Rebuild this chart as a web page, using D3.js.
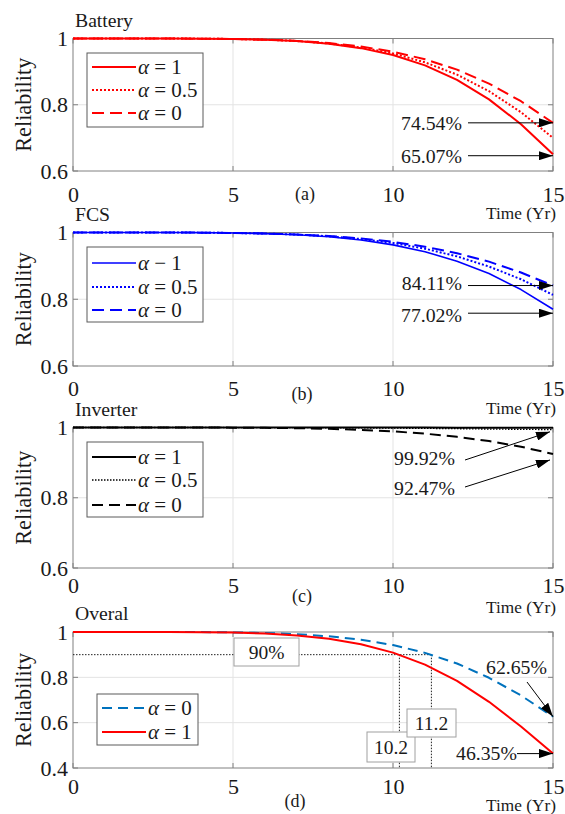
<!DOCTYPE html>
<html>
<head>
<meta charset="utf-8">
<script src="https://cdn.jsdelivr.net/npm/d3@7/dist/d3.min.js"></script>
<style>
  html, body { margin: 0; padding: 0; background: #fff; }
  svg { display: block; font-family: "Liberation Serif", "Times New Roman", serif; }
</style>
</head>
<body>
<svg id="chart" width="565" height="814"></svg>
<script>
// Reliability over time (years) for each subsystem and the overall system
const years = [0, 1, 2, 3, 4, 5, 6, 7, 8, 9, 10, 11, 12, 13, 14, 15];
const xTicks = [0, 5, 10, 15];
const yTicks = [0.6, 0.8, 1];
const yTicksOverall = [0.4, 0.6, 0.8, 1];

const batteryA1  = [1, 1, 1, 0.9999, 0.9996, 0.9986, 0.9965, 0.9921, 0.9842, 0.9709, 0.950, 0.9189, 0.875, 0.8163, 0.7413, 0.6507];
const batteryA05 = [1, 1, 1, 0.9999, 0.9996, 0.9986, 0.9965, 0.9924, 0.9850, 0.9730, 0.955, 0.9280, 0.891, 0.8410, 0.7775, 0.7000];
const batteryA0  = [1, 1, 1, 0.9999, 0.9995, 0.9986, 0.9966, 0.9928, 0.9863, 0.9759, 0.960, 0.9372, 0.906, 0.8640, 0.8106, 0.7454];

const fcsA1  = [1, 1, 1, 0.9999, 0.9996, 0.9986, 0.9967, 0.9932, 0.9872, 0.9775, 0.9630, 0.9425, 0.9140, 0.8770, 0.829, 0.7702];
const fcsA05 = [1, 1, 1, 0.9999, 0.9996, 0.9986, 0.9969, 0.9938, 0.9886, 0.9805, 0.9685, 0.9515, 0.9285, 0.8980, 0.860, 0.8130];
const fcsA0  = [1, 1, 1, 0.9999, 0.9996, 0.9987, 0.9971, 0.9942, 0.9896, 0.9824, 0.9720, 0.9575, 0.9380, 0.9127, 0.880, 0.8411];

const inverterA1  = [1, 1, 1, 1, 1, 1, 1, 1, 0.9999, 0.9999, 0.9998, 0.9997, 0.9996, 0.9995, 0.9994, 0.9992];
const inverterA05 = [1, 1, 1, 1, 1, 0.9999, 0.9998, 0.9996, 0.9993, 0.9988, 0.9982, 0.9975, 0.9966, 0.9955, 0.9948, 0.9940];
const inverterA0  = [1, 1, 1, 1, 0.9999, 0.9996, 0.9990, 0.9980, 0.9962, 0.9933, 0.9889, 0.9825, 0.9735, 0.9614, 0.9453, 0.9247];

const overallA0 = [1, 1, 1, 1, 0.9995, 0.9983, 0.9956, 0.9904, 0.9810, 0.9660, 0.9426, 0.9080, 0.8610, 0.7980, 0.7200, 0.6265];
const overallA1 = [1, 1, 1, 0.9998, 0.9991, 0.9973, 0.9932, 0.9850, 0.9700, 0.9460, 0.9090, 0.8560, 0.7840, 0.6920, 0.5830, 0.4635];

// 90 % reliability threshold and the years at which each case reaches it
const threshold = 0.9;
const thresholdYears = [10.2, 11.2];

const FONT = '"Liberation Serif", "Times New Roman", serif';
const TEXT = "#1a1a1a";
const AXIS = "#808080";
const GRID = "#e3e3e3";
const pct = v => d3.format(".2f")(v * 100) + "%";

const svg = d3.select("#chart");
const defs = svg.append("defs");
defs.append("marker")
  .attr("id", "arrow")
  .attr("markerUnits", "userSpaceOnUse")
  .attr("markerWidth", 15).attr("markerHeight", 9)
  .attr("refX", 14).attr("refY", 4.5)
  .attr("orient", "auto")
  .append("path").attr("d", "M0,0 L14,4.5 L0,9 Z").attr("fill", "#000");

const x = d3.scaleLinear().domain([0, 15]).range([73, 553]);

function legendLabel(sel, label) {
  sel.append("tspan").attr("font-style", "italic").text("\u03b1");
  sel.append("tspan").text(label);
}

function drawPanel(p) {
  const y = d3.scaleLinear().domain([p.yMin, 1]).range([p.bottom, p.top]);
  const g = svg.append("g");

  // grid
  g.append("g").selectAll("line").data(xTicks.slice(1, -1)).join("line")
    .attr("x1", d => x(d)).attr("x2", d => x(d))
    .attr("y1", p.top).attr("y2", p.bottom)
    .attr("stroke", GRID).attr("stroke-width", 1);
  g.append("g").selectAll("line").data(p.yTicks.slice(1, -1)).join("line")
    .attr("x1", x(0)).attr("x2", x(15))
    .attr("y1", d => y(d)).attr("y2", d => y(d))
    .attr("stroke", GRID).attr("stroke-width", 1);

  // inward tick marks on all four sides
  const tickLen = 5;
  const tk = g.append("g").attr("stroke", AXIS).attr("stroke-width", 1);
  xTicks.forEach(t => {
    tk.append("line").attr("x1", x(t)).attr("x2", x(t)).attr("y1", p.bottom).attr("y2", p.bottom - tickLen);
    tk.append("line").attr("x1", x(t)).attr("x2", x(t)).attr("y1", p.top).attr("y2", p.top + tickLen);
  });
  p.yTicks.forEach(t => {
    tk.append("line").attr("x1", x(0)).attr("x2", x(0) + tickLen).attr("y1", y(t)).attr("y2", y(t));
    tk.append("line").attr("x1", x(15)).attr("x2", x(15) - tickLen).attr("y1", y(t)).attr("y2", y(t));
  });

  // plot box
  g.append("rect")
    .attr("x", x(0)).attr("y", p.top)
    .attr("width", x(15) - x(0)).attr("height", p.bottom - p.top)
    .attr("fill", "none").attr("stroke", AXIS).attr("stroke-width", 1);

  // axes labels
  const xa = g.append("g").attr("transform", `translate(0,${p.bottom})`)
    .call(d3.axisBottom(x).tickValues(xTicks).tickSize(0).tickFormat(d3.format("d")));
  xa.select(".domain").remove();
  xa.selectAll("text").attr("y", p.xLabelDy).attr("dy", 0)
    .attr("font-family", FONT).attr("font-size", 22).attr("fill", TEXT);

  const ya = g.append("g").attr("transform", `translate(${x(0)},0)`)
    .call(d3.axisLeft(y).tickValues(p.yTicks).tickSize(0).tickPadding(5)
      .tickFormat(d => d === 1 ? "1" : d3.format(".1f")(d)));
  ya.select(".domain").remove();
  ya.selectAll("text").attr("font-family", FONT).attr("font-size", 22).attr("fill", TEXT);

  g.append("text")
    .attr("transform", `translate(31,${(p.top + p.bottom) / 2}) rotate(-90)`)
    .attr("text-anchor", "middle")
    .attr("font-size", 22.3).attr("fill", TEXT)
    .text("Reliability");

  g.append("text").attr("x", 75).attr("y", p.top - 12)
    .attr("font-size", 19.7).attr("fill", TEXT).text(p.title);

  g.append("text").attr("x", p.tagX).attr("y", p.bottom + p.tagDy)
    .attr("text-anchor", "middle").attr("font-size", 18).attr("fill", TEXT).text(p.tag);

  g.append("text").attr("x", 556).attr("y", p.bottom + p.timeDy)
    .attr("text-anchor", "end").attr("font-size", 17.3).attr("fill", TEXT).text("Time (Yr)");

  // extra decorations below the curves
  if (p.before) p.before(g, y);

  // curves
  const line = d3.line().x((d, i) => x(years[i])).y(d => y(d));
  p.series.forEach(s => {
    g.append("path").datum(s.values)
      .attr("d", line)
      .attr("fill", "none")
      .attr("stroke", s.color)
      .attr("stroke-width", s.width)
      .attr("stroke-dasharray", s.dash || null)
      .attr("stroke-linejoin", "round");
  });

  // legend
  const L = p.legend;
  const lg = g.append("g");
  lg.append("rect").attr("x", L.x).attr("y", L.y).attr("width", L.w).attr("height", L.h)
    .attr("fill", "#fff").attr("stroke", "#5a5a5a").attr("stroke-width", 1);
  L.order.forEach((si, k) => {
    const s = p.series[si];
    const ry = L.rows[k];
    lg.append("line").attr("x1", L.x + 5).attr("x2", L.x + 49).attr("y1", ry).attr("y2", ry)
      .attr("stroke", s.color).attr("stroke-width", s.legendWidth || s.width)
      .attr("stroke-dasharray", s.dash || null);
    lg.append("text").attr("x", L.x + 51).attr("y", ry + 7)
      .attr("font-size", 21).attr("fill", TEXT)
      .call(legendLabel, s.label);
  });

  // value annotations with arrows
  (p.notes || []).forEach(n => {
    const tipY = y(n.value) + (n.tipDy || 0);
    g.append("line")
      .attr("x1", n.fromX).attr("y1", n.fromY !== undefined ? n.fromY : tipY)
      .attr("x2", x(15) - (n.tipDx || 0)).attr("y2", tipY)
      .attr("stroke", "#000").attr("stroke-width", 1)
      .attr("marker-end", "url(#arrow)");
    g.append("text").attr("x", n.textX).attr("y", n.textY + 7)
      .attr("text-anchor", "end").attr("font-size", 19.8).attr("fill", TEXT)
      .text(pct(n.value));
  });

  if (p.after) p.after(g, y);
}

// (a) Battery
drawPanel({
  title: "Battery", tag: "(a)", tagX: 305, tagDy: 29, timeDy: 48, xLabelDy: 31,
  top: 38.5, bottom: 171, yMin: 0.6, yTicks: yTicks,
  series: [
    { values: batteryA1, color: "#ff0000", width: 2, label: " = 1" },
    { values: batteryA05, color: "#ff0000", width: 2, dash: "2,2", label: " = 0.5" },
    { values: batteryA0, color: "#ff0000", width: 2, dash: "12,6", label: " = 0" }
  ],
  legend: { x: 87, y: 53, w: 116, h: 74, rows: [67, 90, 113], order: [0, 1, 2] },
  notes: [
    { value: batteryA0[15], fromX: 468, textX: 462, textY: 123 },
    { value: batteryA1[15], fromX: 468, textX: 462, textY: 156, tipDy: 1.5 }
  ]
});

// (b) FCS
drawPanel({
  title: "FCS", tag: "(b)", tagX: 302, tagDy: 34, timeDy: 48, xLabelDy: 30,
  top: 232.5, bottom: 366, yMin: 0.6, yTicks: yTicks,
  series: [
    { values: fcsA1, color: "#0000ff", width: 1.6, label: " \u2212 1" },
    { values: fcsA05, color: "#0000ff", width: 2, dash: "2,2", label: " = 0.5" },
    { values: fcsA0, color: "#0000ff", width: 2, dash: "12,6", label: " = 0" }
  ],
  legend: { x: 87, y: 247, w: 116, h: 75, rows: [263, 287, 310], order: [0, 1, 2] },
  notes: [
    { value: fcsA0[15], fromX: 468, textX: 462, textY: 283 },
    { value: fcsA1[15], fromX: 468, textX: 462, textY: 315, tipDy: 4 }
  ]
});

// (c) Inverter
drawPanel({
  title: "Inverter", tag: "(c)", tagX: 302, tagDy: 34, timeDy: 45, xLabelDy: 25,
  top: 427.5, bottom: 568, yMin: 0.6, yTicks: yTicks,
  series: [
    { values: inverterA1, color: "#000", width: 2, label: " = 1" },
    { values: inverterA05, color: "#000", width: 1.3, dash: "1.5,1.5", label: " = 0.5" },
    { values: inverterA0, color: "#000", width: 2, dash: "11,6", label: " = 0" }
  ],
  legend: { x: 87, y: 442, w: 116, h: 75, rows: [457, 480, 505], order: [0, 1, 2] },
  notes: [
    { value: inverterA1[15], fromX: 465, fromY: 460, textX: 455, textY: 458, tipDy: 4, tipDx: 3 },
    { value: inverterA0[15], fromX: 465, fromY: 487, textX: 455, textY: 488, tipDy: 6, tipDx: 3 }
  ]
});

// (d) Overall system
drawPanel({
  title: "Overal", tag: "(d)", tagX: 295, tagDy: 39, timeDy: 43, xLabelDy: 26,
  top: 632, bottom: 768, yMin: 0.4, yTicks: yTicksOverall,
  before: (g, y) => {
    const ty = y(threshold);
    const dots = g.append("g").attr("stroke", "#222").attr("stroke-width", 1)
      .attr("stroke-dasharray", "1.5,1.5");
    dots.append("line").attr("x1", x(0)).attr("x2", x(thresholdYears[1]))
      .attr("y1", ty).attr("y2", ty);
    thresholdYears.forEach(t => {
      dots.append("line").attr("x1", x(t)).attr("x2", x(t))
        .attr("y1", ty).attr("y2", y(0.4));
    });
  },
  series: [
    { values: overallA0, color: "#0072bd", width: 2, dash: "10,6", label: " = 0" },
    { values: overallA1, color: "#ff0000", width: 2, label: " = 1" }
  ],
  legend: { x: 97, y: 694, w: 101, h: 51, rows: [708, 732], order: [0, 1] },
  notes: [
    { value: overallA0[15], fromX: 527, fromY: 682, textX: 547, textY: 667 },
    { value: overallA1[15], fromX: 517, textX: 517, textY: 753 }
  ],
  after: (g, y) => {
    const box = (cx, cy, w, h, label) => {
      g.append("rect").attr("x", cx - w / 2).attr("y", cy - h / 2).attr("width", w).attr("height", h)
        .attr("fill", "#fff").attr("stroke", "#a0a0a0").attr("stroke-width", 1);
      g.append("text").attr("x", cx).attr("y", cy + 7).attr("text-anchor", "middle")
        .attr("font-size", 19.5).attr("fill", TEXT).text(label);
    };
    box(266.5, 652, 65, 28, d3.format(".0f")(threshold * 100) + "%");
    box(391, 747, 48, 30, String(thresholdYears[0]));
    box(431.5, 723, 49, 28, String(thresholdYears[1]));
  }
});
</script>
</body>
</html>
